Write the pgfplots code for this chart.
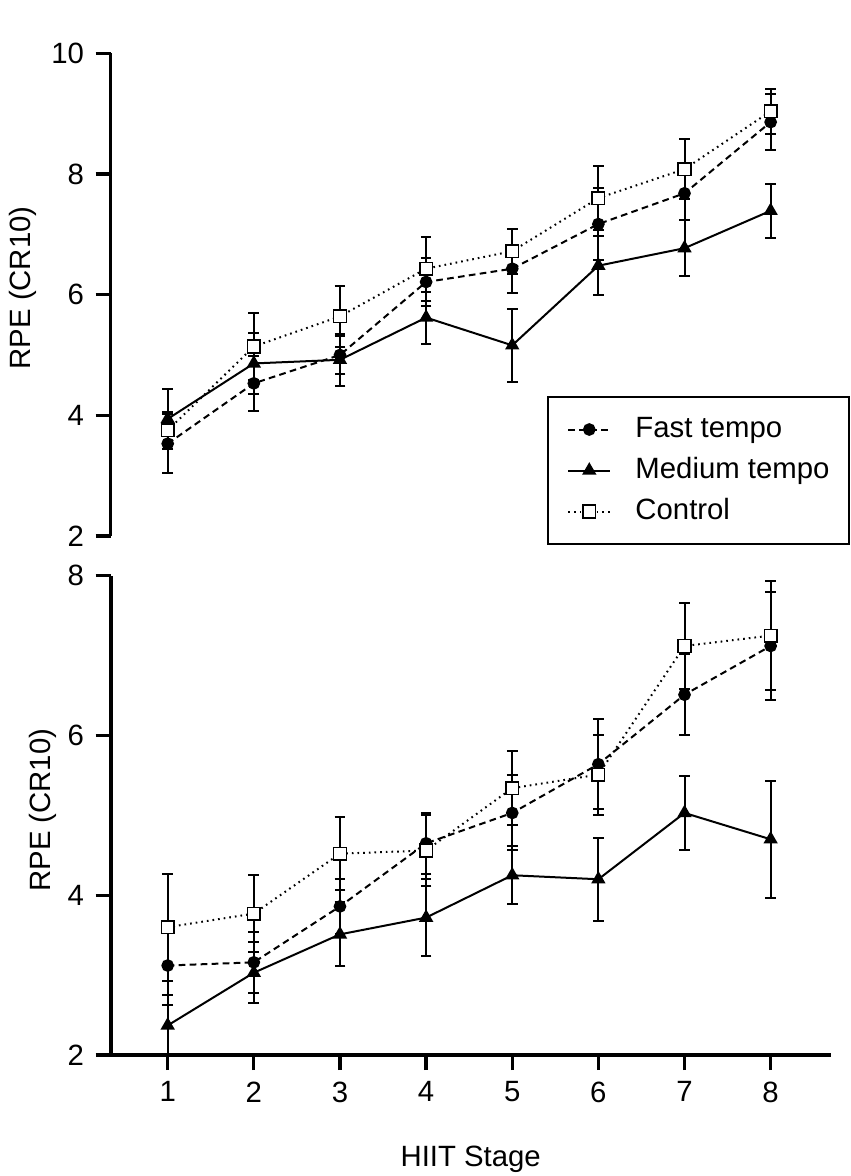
\documentclass[border=0pt]{standalone}
\usepackage{fontspec}
\setmainfont{Liberation Sans}
\usepackage{pgfplots}
\pgfplotsset{compat=1.18}

\newcommand\chartfont{\fontsize{8.8}{10.5}\selectfont}

\pgfplotsset{
  rpe/.style={
    scale only axis,
    width=216pt,
    xmin=0.338, xmax=8.697,
    xtick={1,...,8},
    tick align=outside,
    major tick length=4.5pt,
    tick style={line width=1pt, black},
    axis line style={line width=1.1pt, -},
    separate axis lines,
    axis y line*=left,
    tick label style={font=\chartfont},
    label style={font=\chartfont},
    /pgf/number format/assume math mode=true,
    clip mode=individual,
  },
  fast/.style={black, line width=0.6pt, dash pattern=on 2pt off 1.3pt,
    mark=*, mark size=1.6pt, mark options={solid}},
  med/.style={black, line width=0.6pt, solid,
    mark=triangle*, mark size=1.9pt, mark options={solid}},
  ctrl/.style={black, line width=0.6pt, dash pattern=on 0.5pt off 1.2pt,
    mark=square*, mark size=1.9pt, mark options={solid, fill=white, line width=0.45pt}},
  errs/.style={
    error bars/y dir=both,
    error bars/y explicit,
    error bars/error bar style={line width=0.6pt, solid, black},
    error bars/error mark options={rotate=90, mark size=1.6pt, line width=0.6pt, solid, black},
  },
}

\begin{document}
\begin{tikzpicture}

% lower panel
\begin{axis}[rpe,
    height=143.8pt,
    ymin=2, ymax=8,
    ytick={2,4,6,8},
    axis x line*=bottom,
    xlabel={HIIT Stage},
    xlabel style={at={(axis description cs:0.5,0)}, anchor=base, yshift=-33.5pt},
    ylabel={RPE (CR10)},
    ylabel style={at={(axis description cs:-0.0947,0.511)}, anchor=center},
  ]
  \addplot[fast, errs] coordinates {
    (1,3.12) +- (0,0.50)
    (2,3.16) +- (0,0.38)
    (3,3.86) +- (0,0.34)
    (4,4.65) +- (0,0.38)
    (5,5.03) +- (0,0.47)
    (6,5.64) +- (0,0.56)
    (7,6.51) +- (0,0.51)
    (8,7.12) +- (0,0.67)
  };
  \addplot[med, errs] coordinates {
    (1,2.37) +- (0,0.38)
    (2,3.03) +- (0,0.38)
    (3,3.51) +- (0,0.40)
    (4,3.72) +- (0,0.48)
    (5,4.25) +- (0,0.36)
    (6,4.20) +- (0,0.52)
    (7,5.03) +- (0,0.46)
    (8,4.70) +- (0,0.73)
  };
  \addplot[ctrl, errs] coordinates {
    (1,3.60) +- (0,0.67)
    (2,3.77) +- (0,0.48)
    (3,4.52) +- (0,0.46)
    (4,4.56) +- (0,0.45)
    (5,5.34) +- (0,0.46)
    (6,5.51) +- (0,0.50)
    (7,7.12) +- (0,0.54)
    (8,7.25) +- (0,0.68)
  };
\end{axis}

% upper panel
\begin{axis}[rpe,
    at={(0pt,155.7pt)},
    height=144.8pt,
    ymin=2, ymax=10,
    ytick={2,4,6,8,10},
    hide x axis,
    ylabel={RPE (CR10)},
    ylabel style={at={(axis description cs:-0.1218,0.514)}, anchor=center},
    legend cell align=left,
    legend image code/.code={
      \draw[mark repeat=2, mark phase=2, #1]
        plot coordinates {(0pt,0pt) (6.25pt,0pt) (12.5pt,0pt)};
    },
    legend style={
      at={(axis description cs:0.6064,0.290)}, anchor=north west,
      draw=black, line width=0.5pt, fill=white,
      font=\chartfont,
      inner xsep=5.8pt, inner ysep=5.6pt,
      row sep=3.9pt,
      nodes={inner sep=0pt, text height=6.5pt, text depth=1.9pt},
      /tikz/every odd column/.append style={column sep=7.3pt},
    },
  ]
  \addplot[fast, errs] coordinates {
    (1,3.53) +- (0,0.49)
    (2,4.53) +- (0,0.46)
    (3,5.00) +- (0,0.32)
    (4,6.21) +- (0,0.40)
    (5,6.43) +- (0,0.40)
    (6,7.17) +- (0,0.60)
    (7,7.68) +- (0,0.45)
    (8,8.86) +- (0,0.46)
  };
  \addplot[med, errs] coordinates {
    (1,3.94) +- (0,0.49)
    (2,4.86) +- (0,0.50)
    (3,4.92) +- (0,0.43)
    (4,5.62) +- (0,0.43)
    (5,5.16) +- (0,0.60)
    (6,6.48) +- (0,0.49)
    (7,6.77) +- (0,0.46)
    (8,7.39) +- (0,0.45)
  };
  \addplot[ctrl, errs] coordinates {
    (1,3.75) +- (0,0.30)
    (2,5.14) +- (0,0.55)
    (3,5.64) +- (0,0.51)
    (4,6.43) +- (0,0.53)
    (5,6.72) +- (0,0.37)
    (6,7.60) +- (0,0.53)
    (7,8.08) +- (0,0.50)
    (8,9.04) +- (0,0.37)
  };
  \legend{Fast tempo, Medium tempo, Control}
\end{axis}

\pgfresetboundingbox
\path[use as bounding box] (-33.2pt,-36.3pt) rectangle (221.8pt,316.5pt);
\end{tikzpicture}
\end{document}
